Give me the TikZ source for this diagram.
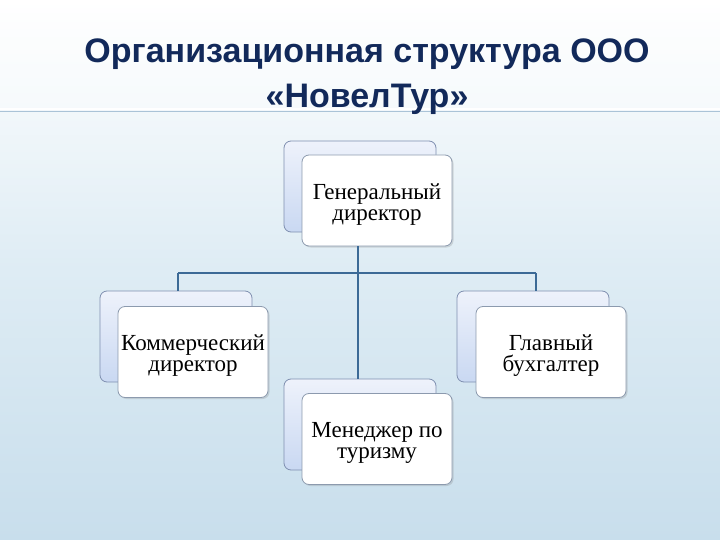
\documentclass[tikz,border=0pt]{standalone}
\usepackage{fontspec}
\setmainfont{Liberation Serif}
\newfontfamily\titlefont{Liberation Sans}
\usetikzlibrary{shadows}
\definecolor{titleblue}{HTML}{12295A}
\definecolor{linkblue}{HTML}{3C6A96}
\definecolor{backedge}{HTML}{7F8FB0}
\definecolor{frontedge}{HTML}{8C9AAE}
\definecolor{backfillA}{HTML}{C9D8F2}
\definecolor{backfillB}{HTML}{EEF2FB}
\definecolor{bgbottom}{RGB}{200,222,236}
\definecolor{bgmid}{RGB}{222,236,244}
\definecolor{sepline}{RGB}{170,195,215}
\tikzset{
  backbox/.style={draw=backedge, line width=0.8pt, rounded corners=7pt, top color=backfillB, bottom color=backfillA, minimum width=152pt, minimum height=91pt, inner sep=0pt},
  frontbox/.style={draw=frontedge, line width=0.8pt, rounded corners=7pt, fill=white, minimum width=150pt, minimum height=91pt, inner sep=0pt, drop shadow={shadow xshift=1.5pt, shadow yshift=-1.5pt, opacity=0.25}},
  boxtext/.style={align=center, font=\fontsize{23}{21}\selectfont, inner sep=0pt, yshift=-4pt},
  link/.style={draw=linkblue, line width=1.6pt}
}
\begin{document}
\begin{tikzpicture}[x=1pt,y=-1pt]
\useasboundingbox (0,0) rectangle (720,540);
% background
\shade[top color=white, bottom color=bgbottom, middle color=bgmid] (0,0) rectangle (720,540);
\fill[white, opacity=0.35] (0,0) rectangle (720,108);
\draw[white, line width=2pt] (0,109) -- (720,109);
\draw[sepline, line width=0.8pt] (0,111) -- (720,111);
% title
\node[font=\titlefont\bfseries\fontsize{34}{45}\selectfont, text=titleblue, align=center] (title) at (367,77) {Организационная структура ООО\\«НовелТур»};
% boxes
\node[backbox] (gdb) at (360,186.5) {};
\node[frontbox] (gd) at (377,200.5) {};
\node[boxtext] (gdt) at (gd.center) {Генеральный\\директор};
\node[backbox] (kdb) at (176,336.5) {};
\node[frontbox] (kd) at (193,352) {};
\node[boxtext] (kdt) at (kd.center) {Коммерческий\\директор};
\node[backbox] (gbb) at (533,336.5) {};
\node[frontbox] (gb) at (551,352) {};
\node[boxtext] (gbt) at (gb.center) {Главный\\бухгалтер};
\node[backbox] (mtb) at (360,424.5) {};
\node[frontbox] (mt) at (377,439) {};
\node[boxtext] (mtt) at (mt.center) {Менеджер по\\туризму};
% connectors
\coordinate (hub) at (358,273);
\coordinate (hl) at (178,273);
\coordinate (hr) at (536,273);
\draw[link] (gd.south -| hub) -- (hub);
\draw[link] (hl) -- (hr);
\draw[link] (hl) -- (hl |- kdb.north);
\draw[link] (hr) -- (hr |- gbb.north);
\draw[link] (hub) -- (hub |- mtb.north);
\end{tikzpicture}
\end{document}
